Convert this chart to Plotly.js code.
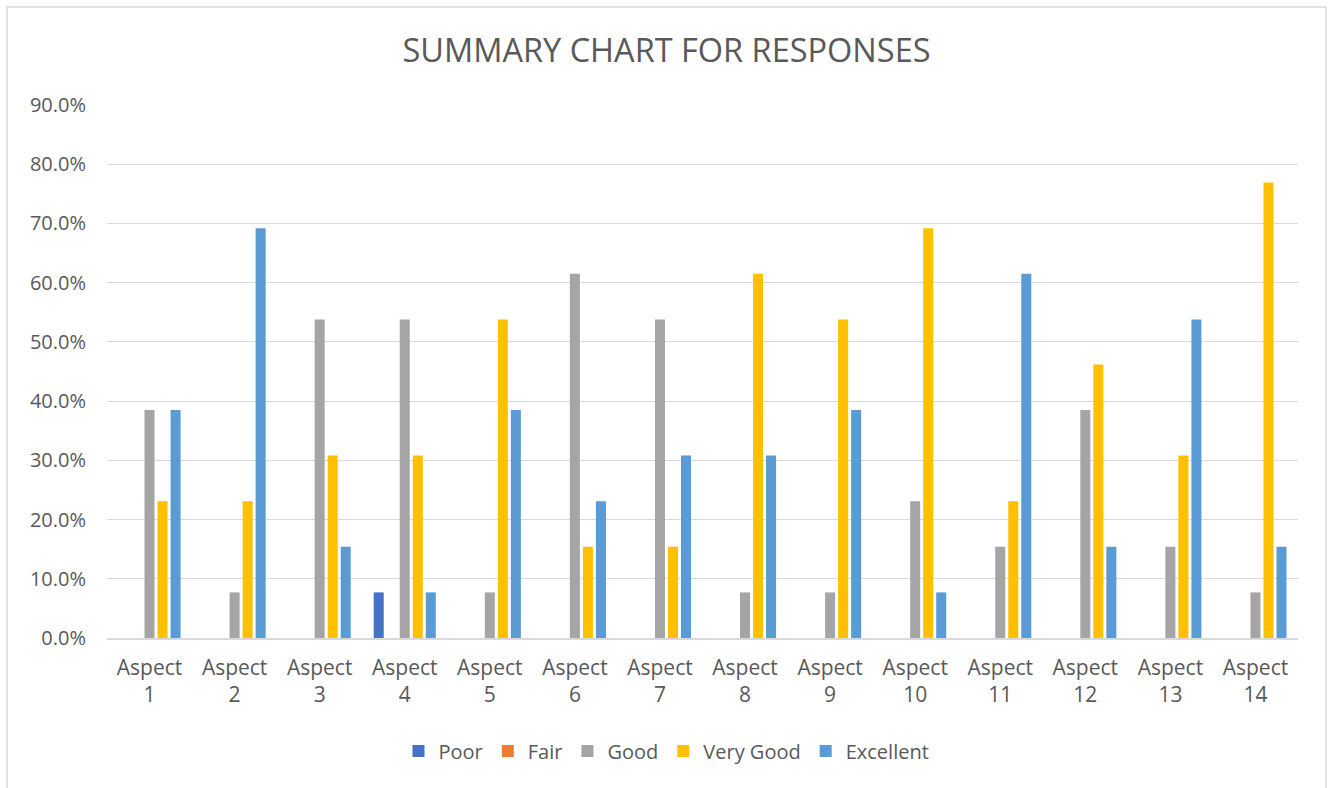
<!DOCTYPE html>
<html><head><meta charset="utf-8">
<script src="https://cdn.plot.ly/plotly-3.0.1.min.js"></script>
<style>html,body{margin:0;padding:0;background:#fff}#chart{width:1333px;height:788px}</style>
</head><body><div id="chart"></div>
<script>
const categories = ["Aspect<br>1","Aspect<br>2","Aspect<br>3","Aspect<br>4","Aspect<br>5","Aspect<br>6","Aspect<br>7","Aspect<br>8","Aspect<br>9","Aspect<br>10","Aspect<br>11","Aspect<br>12","Aspect<br>13","Aspect<br>14"];
const poor     = [0,0,0,0.077,0,0,0,0,0,0,0,0,0,0];
const fair     = [0,0,0,0,0,0,0,0,0,0,0,0,0,0];
const good     = [0.385,0.077,0.538,0.538,0.077,0.615,0.538,0.077,0.077,0.231,0.154,0.385,0.154,0.077];
const veryGood = [0.231,0.231,0.308,0.308,0.538,0.154,0.154,0.615,0.538,0.692,0.231,0.462,0.308,0.769];
const excellent= [0.385,0.692,0.154,0.077,0.385,0.231,0.308,0.308,0.385,0.077,0.615,0.154,0.538,0.154];
const seriesNames = ["Poor","Fair","Good","Very Good","Excellent"];
const seriesColors = ["#4472C4","#ED7D31","#A5A5A5","#FFC000","#5B9BD5"];
const seriesData = [poor, fair, good, veryGood, excellent];

const traces = seriesData.map((d,i)=>({
  type:'bar', name:seriesNames[i], x:categories, y:d,
  marker:{color:seriesColors[i]}, hoverinfo:'x+y'
}));
const W=1333,H=788,ml=107,mr=35,mt=105,mb=150;
const pw=W-ml-mr, ph=H-mt-mb;
const layout = {
  width:W, height:H,
  margin:{l:ml,r:mr,t:mt,b:mb,pad:0},
  paper_bgcolor:'#fff', plot_bgcolor:'#fff',
  font:{family:'"Open Sans", sans-serif', color:'#595959', size:20},
  title:{text:'SUMMARY CHART FOR RESPONSES', font:{size:32.5,color:'#595959'}, x:0.5, xanchor:'center', y:1-51/H, yanchor:'middle'},
  barmode:'group', bargap:0.235, bargroupgap:0.23,
  xaxis:{showgrid:false, showline:true, linecolor:'#d9d9d9', linewidth:1.5, ticks:'', tickfont:{size:21,color:'#595959'}, ticklabelstandoff:10, fixedrange:true},
  yaxis:{range:[0,0.9], dtick:0.1, tickformat:'.1%', showgrid:true, gridcolor:'#d9d9d9', gridwidth:1, zeroline:false, showline:false, ticks:'', tickfont:{size:20,color:'#595959'}, ticklabelstandoff:20},
  legend:{orientation:'h', x:0.5-36/pw, xanchor:'center', y:-(751-638)/ph, yanchor:'middle', font:{size:20,color:'#595959'}, itemwidth:20, tracegroupgap:0},
  shapes:[{type:'rect', xref:'paper', yref:'paper', x0:(7-ml)/pw, x1:(1326-ml)/pw, y0:-(795-H+mb)/ph, y1:1+(mt-7)/ph, line:{color:'#d9d9d9',width:1.5}, fillcolor:'rgba(0,0,0,0)', layer:'below'}]
};
Plotly.newPlot('chart', traces, layout, {displayModeBar:false, staticPlot:true});
</script></body></html>
